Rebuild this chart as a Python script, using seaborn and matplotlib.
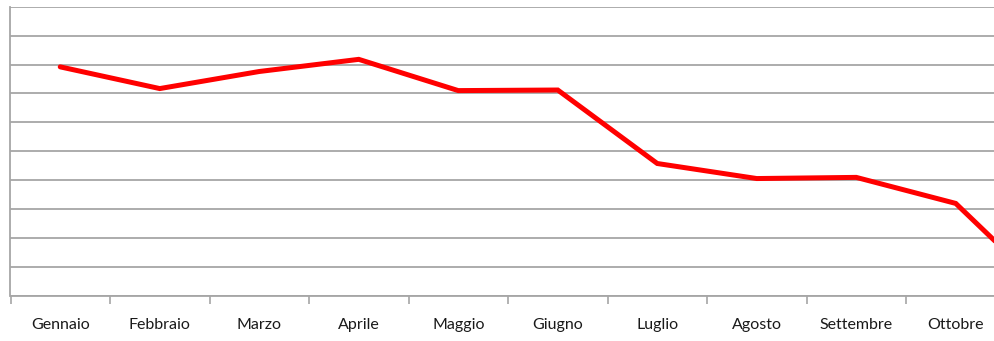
import numpy as np
import pandas as pd
import matplotlib
matplotlib.use("Agg")
import matplotlib.pyplot as plt
from matplotlib.ticker import FixedLocator
import seaborn as sns

mesi = ["Gennaio", "Febbraio", "Marzo", "Aprile", "Maggio", "Giugno",
        "Luglio", "Agosto", "Settembre", "Ottobre", "Novembre"]
valori = [7.92, 7.17, 7.76, 8.18, 7.10, 7.12, 4.58, 4.06, 4.10, 3.20, -0.10]
# months whose labels fall inside the canvas
mesi_etichettati = mesi[:10]

df = pd.DataFrame({"mese": mesi, "valore": valori, "pos": np.arange(len(mesi))})

sns.set_theme(style="white")
plt.rcParams["font.family"] = ["Lato", "DejaVu Sans"]

W, H = 995, 341
fig = plt.figure(figsize=(W / 100, H / 100), dpi=100)
# plot area wider than the canvas: the last month runs off the right edge
left_px, bottom_px, h_px = 10.5, 45, 289.3
w_px = 99.5 * len(mesi)
ax = fig.add_axes([left_px / W, bottom_px / H, w_px / W, h_px / H])

sns.lineplot(data=df, x="pos", y="valore", ax=ax, color="#ff0000",
             linewidth=3.6, solid_joinstyle="miter", zorder=3)

ax.set_xlim(-0.5, len(mesi) - 0.5)
ax.set_ylim(0, 10)
ax.set_yticks(np.arange(0, 11, 1))
ax.set_yticklabels([])
ax.tick_params(axis="y", length=0)
ax.grid(axis="y", color="#a6a6a6", linewidth=1.3)
ax.grid(axis="x", visible=False)

ax.set_xticks(np.arange(len(mesi_etichettati)))
ax.set_xticklabels(mesi_etichettati, fontsize=11.5, color="#1a1a1a")
ax.tick_params(axis="x", which="major", length=0, pad=16)
ax.xaxis.set_minor_locator(FixedLocator(np.arange(-0.5, len(mesi), 1.0)))
ax.tick_params(axis="x", which="minor", length=6, width=1.2, color="#a6a6a6",
               direction="out", bottom=True)

for side in ["top", "right"]:
    ax.spines[side].set_visible(False)
for side in ["left", "bottom"]:
    ax.spines[side].set_color("#a6a6a6")
    ax.spines[side].set_linewidth(1.3)

ax.set_xlabel("")
ax.set_ylabel("")

fig.savefig("out.png", dpi=100)
